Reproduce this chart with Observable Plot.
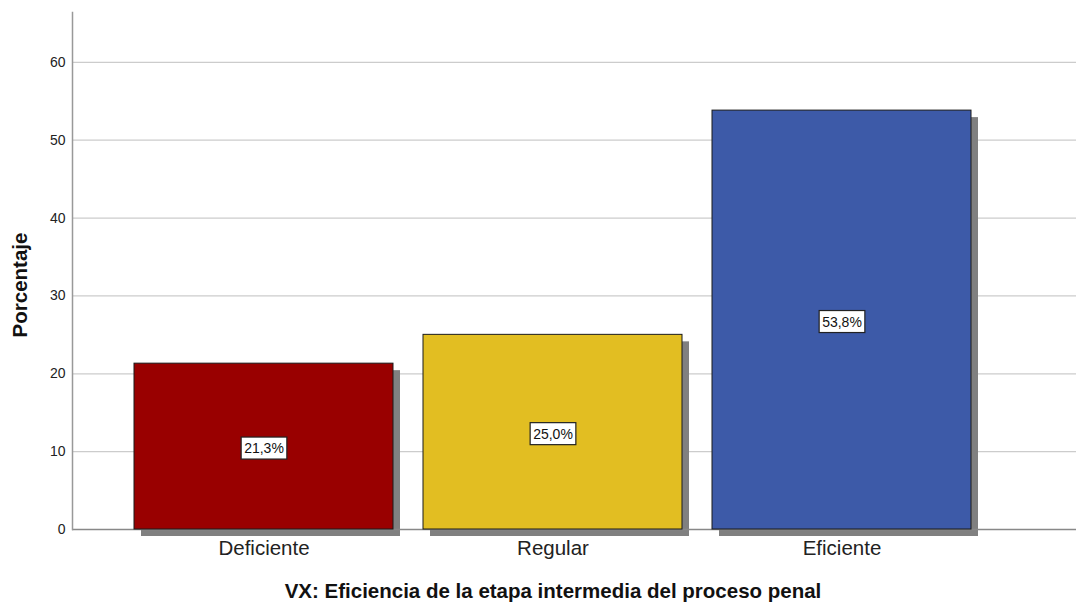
<!DOCTYPE html>
<html>
<head>
<meta charset="utf-8">
<script src="https://cdn.jsdelivr.net/npm/d3@7"></script>
<script src="https://cdn.jsdelivr.net/npm/@observablehq/plot@0.6"></script>
<style>
  html, body { margin: 0; padding: 0; background: #fff; }
  #chart svg { display: block; font-family: "Liberation Sans", Arial, sans-serif; }
</style>
</head>
<body>
<div id="chart"></div>
<script>
const categories = ["Deficiente", "Regular", "Eficiente"];
const percents = [21.3, 25.0, 53.8];
const labels = ["21,3%", "25,0%", "53,8%"];
const colors = ["#990000", "#E2BE22", "#3D5AA8"];
const yTicks = [0, 10, 20, 30, 40, 50, 60];
const xTitle = "VX: Eficiencia de la etapa intermedia del proceso penal";
const yTitle = "Porcentaje";

const data = categories.map((c, i) => ({cat: c, pct: percents[i], label: labels[i], color: colors[i]}));

const W = 1076, H = 603;
const chart = Plot.plot({
  width: W,
  height: H,
  marginLeft: 72,
  marginRight: 0,
  marginTop: 12,
  marginBottom: 74,
  style: {fontFamily: "Liberation Sans, Arial, sans-serif", background: "#fff", overflow: "visible"},
  x: {domain: categories, range: [119, 986], paddingInner: 0.1038, paddingOuter: 0.0519, label: null},
  y: {domain: [0, 66.4], label: null},
  marks: [
    Plot.ruleY(yTicks.filter(d => d > 0), {stroke: "#cccccc", strokeWidth: 1.3}),
    Plot.barY(data, {x: "cat", y: "pct", fill: "#808080", dx: 7, dy: 7}),
    Plot.ruleY([0], {stroke: "#888888", strokeWidth: 1.5}),
    Plot.barY(data, {x: "cat", y: "pct", fill: "color", stroke: "#1a1a1a", strokeWidth: 1}),
    Plot.text(data, {x: "cat", y: d => d.pct / 2, dy: 2, text: "label", fontSize: 14, fill: "#111", className: "vlabel"}),
    Plot.axisY({ticks: yTicks, tickSize: 0, tickPadding: 7, fontSize: 14, color: "#222", label: null}),
    Plot.axisX({tickSize: 0, tickPadding: 11, fontSize: 20.5, color: "#222", label: null}),
    Plot.frame({anchor: "left", stroke: "#999", strokeWidth: 1.5})
  ]
});
document.getElementById("chart").appendChild(chart);

// white boxes behind value labels
const svg = d3.select(chart);
svg.selectAll("g.vlabel text").each(function() {
  const b = this.getBBox();
  const padX = 3, padY = 3;
  d3.select(this.parentNode).insert("rect", () => this)
    .attr("x", b.x - padX).attr("y", b.y - padY)
    .attr("width", b.width + 2 * padX).attr("height", b.height + 2 * padY)
    .attr("transform", this.getAttribute("transform"))
    .attr("fill", "#fff").attr("stroke", "#222").attr("stroke-width", 1.2);
});

// axis titles
svg.append("text")
  .attr("x", 553).attr("y", 598)
  .attr("text-anchor", "middle")
  .attr("font-size", 20.5).attr("font-weight", "bold").attr("fill", "#111")
  .text(xTitle);
svg.append("text")
  .attr("transform", "translate(27,285) rotate(-90)")
  .attr("text-anchor", "middle")
  .attr("font-size", 20.5).attr("font-weight", "bold").attr("fill", "#111")
  .text(yTitle);
</script>
</body>
</html>
